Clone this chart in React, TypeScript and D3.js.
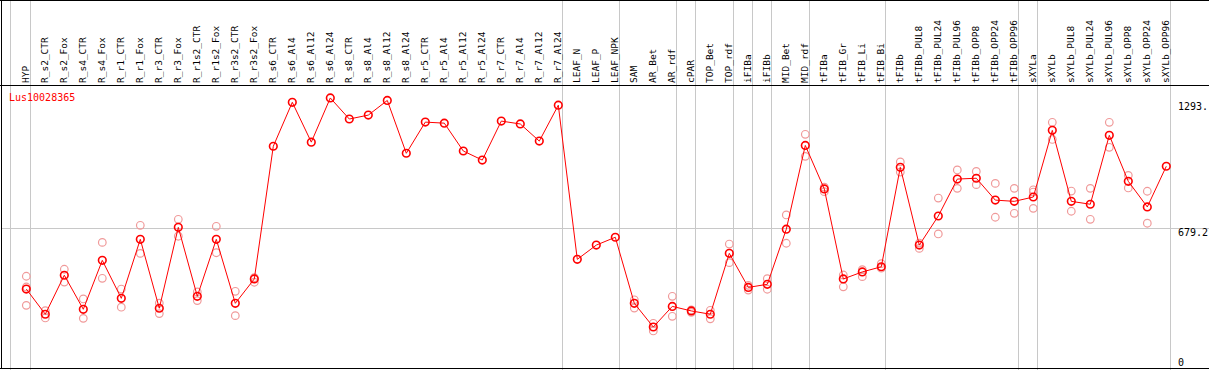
import React from "react";
import * as d3 from "d3";

const categories = [
  "HYP", "R_s2_CTR", "R_s2_Fox", "R_s4_CTR", "R_s4_Fox", "R_r1_CTR", "R_r1_Fox", "R_r3_CTR", "R_r3_Fox",
  "R_r1s2_CTR", "R_r1s2_Fox", "R_r3s2_CTR", "R_r3s2_Fox", "R_s6_CTR", "R_s6_Al4", "R_s6_Al12", "R_s6_Al24",
  "R_s8_CTR", "R_s8_Al4", "R_s8_Al12", "R_s8_Al24", "R_r5_CTR", "R_r5_Al4", "R_r5_Al12", "R_r5_Al24",
  "R_r7_CTR", "R_r7_Al4", "R_r7_Al12", "R_r7_Al24", "LEAF_N", "LEAF_P", "LEAF_NPK", "SAM", "AR_Bet", "AR_rdf",
  "cPAR", "TOP_Bet", "TOP_rdf", "iFIBa", "iFIBb", "MID_Bet", "MID_rdf", "tFIBa", "tFIB_Gr", "tFIB_Li", "tFIB_Bi",
  "tFIBb", "tFIBb_PUL8", "tFIBb_PUL24", "tFIBb_PUL96", "tFIBb_OPP8", "tFIBb_OPP24", "tFIBb_OPP96", "sXYLa",
  "sXYLb", "sXYLb_PUL8", "sXYLb_PUL24", "sXYLb_PUL96", "sXYLb_OPP8", "sXYLb_OPP24", "sXYLb_OPP96",
];

const means = [
  385, 263, 452, 287, 524, 340, 626, 292, 684, 350, 626, 316, 434,
  1077, 1290, 1097, 1311, 1209, 1228, 1299, 1043, 1194, 1189, 1054, 1010, 1199, 1185, 1102, 1276,
  529, 598, 636,
  316, 201, 301, 279, 263, 558, 393, 408, 675, 1081,
  870, 434, 468, 493, 975, 598, 739, 918, 922, 816, 810,
  831, 1154, 810, 796, 1130, 907, 783, 980,
];

const replicates: number[][] = [
  [447, 395, 306], [280, 245], [481, 419], [337, 243], [611, 437], [385, 297], [694, 558], [317, 266],
  [723, 641], [371, 329], [689, 561], [374, 256], [440, 418],
  [], [], [], [], [], [], [], [], [], [], [], [], [], [], [], [], [], [], [],
  [333, 293], [219, 182], [350, 253], [284, 272], [282, 241], [603, 513], [403, 380], [435, 384],
  [744, 607], [1135, 1028], [879, 857], [453, 396], [479, 445], [508, 486], [1001, 952], [608, 582],
  [826, 652], [962, 873], [955, 891], [897, 733], [873, 752], [866, 855, 776], [1193, 1110],
  [860, 762], [873, 723], [1193, 1072], [936, 875], [859, 704], [],
];

// group separators drawn after these category indexes
const groupEnds = [0, 28, 31, 34, 35, 37, 38, 39, 41, 45, 52, 53, 60];

const yTickValues = [0, 679.2, 1293.4];
const yTickLabels = ["0", "679.2", "1293."];
const geneName = "Lus10028365";

const W = 1209;
const H = 370;

export default function App() {
  const x = d3.scaleLinear().domain([0, categories.length - 1]).range([26.3, 26.3 + 19 * (categories.length - 1)]);
  const y = d3.scaleLinear().domain([0, 1293.4]).range([368.5, 101.6]);
  const line = d3
    .line<number>()
    .x((_, i) => x(i))
    .y((d) => y(d));
  const mono = "'DejaVu Sans Mono', 'Liberation Mono', monospace";
  const sepXs = [x(0) - 16, ...groupEnds.map((i) => x(i) + 4)];
  return (
    <svg
      width={W}
      height={H}
      style={{ position: "absolute", left: 0, top: 0, background: "#fff" }}
      shapeRendering="crispEdges"
    >
      <rect x={0} y={0} width={W} height={H} fill="#fff" />
      <line x1={1} x2={W} y1={Math.round(y(679.2)) + 0.5} y2={Math.round(y(679.2)) + 0.5} stroke="#c8c8c8" />
      {sepXs.map((sx, i) => (
        <line key={i} x1={Math.round(sx) + 0.5} x2={Math.round(sx) + 0.5} y1={0} y2={H} stroke="#c8c8c8" />
      ))}
      <line x1={0} x2={W} y1={0.5} y2={0.5} stroke="#000" />
      <line x1={0} x2={W} y1={85.5} y2={85.5} stroke="#000" />
      <line x1={0} x2={W} y1={368.5} y2={368.5} stroke="#000" />
      <line x1={1.5} x2={1.5} y1={0} y2={369} stroke="#000" />
      {categories.map((c, i) => (
        <text
          key={c}
          transform={`translate(${Math.round(x(i)) + 3},83) rotate(-90)`}
          fontFamily={mono}
          fontSize={9.5}
          fill="#000"
        >
          {c}
        </text>
      ))}
      {yTickValues.map((v, i) => (
        <text
          key={v}
          x={1178}
          y={i === 0 ? 366 : y(v) + 8}
          fontFamily={mono}
          fontSize={10}
          fill="#000"
        >
          {yTickLabels[i]}
        </text>
      ))}
      <text x={9} y={101} fontFamily={mono} fontSize={10} fill="#ff0000">
        {geneName}
      </text>
      <g shapeRendering="auto">
        {replicates.map((reps, i) =>
          reps.map((r, j) => (
            <circle key={`${i}-${j}`} cx={x(i)} cy={y(r)} r={3.8} fill="none" stroke="#f09a9a" strokeWidth={1.2} />
          ))
        )}
        <path d={line(means) || ""} fill="none" stroke="#ff0000" strokeWidth={1} />
        {means.map((m, i) => (
          <circle key={i} cx={x(i)} cy={y(m)} r={3.8} fill="none" stroke="#ff0000" strokeWidth={1.6} />
        ))}
      </g>
    </svg>
  );
}
